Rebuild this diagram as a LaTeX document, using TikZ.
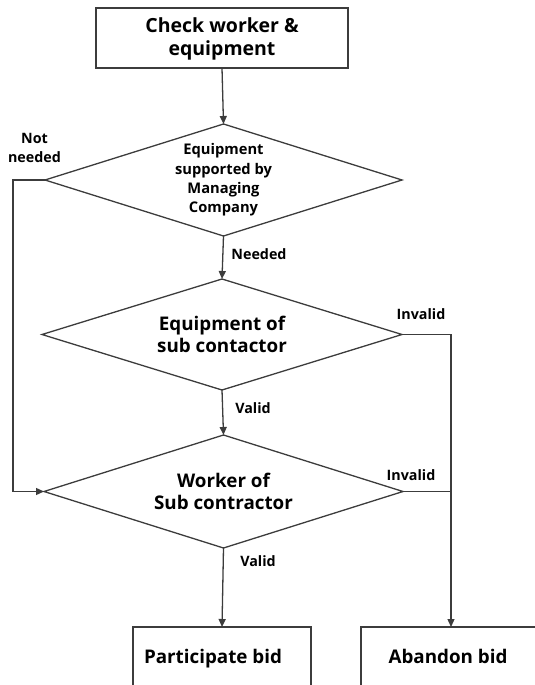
\documentclass[tikz,border=0pt]{standalone}
\usepackage{fontspec}
\setmainfont{Open Sans}
\usetikzlibrary{shapes.geometric,arrows.meta}

\definecolor{edge}{HTML}{3C3C3C}

\tikzset{
  line/.style={draw=edge, line width=1.3pt},
  flow/.style={line, -{Triangle[length=8pt,width=7pt]}},
  box/.style={line, rectangle, inner sep=0pt, outer sep=0pt},
  dia/.style={line, diamond, inner sep=0pt, outer sep=0pt,
              minimum width=357pt, minimum height=112pt},
  big/.style={align=center, font=\bfseries\fontsize{18.8}{22.5}\selectfont},
  mid/.style={align=center, font=\bfseries\fontsize{14.7}{19.3}\selectfont},
  tag/.style={align=center, font=\bfseries\fontsize{14.3}{19}\selectfont},
}

\begin{document}
\begin{tikzpicture}[x=1pt, y=-1pt]
  \useasboundingbox (0,0) rectangle (535,685);
  \clip (0,0) rectangle (535,685);

  % process boxes
  \node[box, minimum width=252pt, minimum height=60pt] (start) at (222,38) {};
  \node[big, font=\bfseries\fontsize{19.5}{23.5}\selectfont] (startt) at ([yshift=-1pt]start.center) {Check worker \&\\equipment};

  \node[box, minimum width=178pt, minimum height=60pt] (pb) at (222,657) {};
  \node[big, anchor=base] (pbt) at (213,663.5) {Participate bid};

  \node[box, minimum width=180pt, minimum height=60pt] (ab) at (451,657) {};
  \node[big, anchor=base] (abt) at (448,663.5) {Abandon bid};

  % decisions
  \node[dia] (d1) at (223.5,180) {};
  \node[mid] (d1t) at (d1) {Equipment\\supported by\\Managing\\Company};

  \node[dia, minimum width=360pt, minimum height=111pt] (d2) at (222,334.5) {};
  \node[big] (d2t) at (d2) {Equipment of\\sub contactor};

  \node[dia, minimum width=359pt, minimum height=113pt] (d3) at (223.5,491.5) {};
  \node[big] (d3t) at (d3) {Worker of\\Sub contractor};

  % connectors
  \coordinate (lft) at (13,180);
  \coordinate (rgt) at (451,334.5);

  \draw[flow] (start.south) -- (d1.north);
  \draw[flow] (d1.south) -- (d2.north);
  \draw[flow] (d2.south) -- (d3.north);
  \draw[flow] (d3.south) -- (pb.north);
  \draw[flow] (d1.west) -- (lft) |- (d3.west);
  \draw[flow] (d2.east) -- (rgt) -- (ab.north);
  \draw[line] (d3.east) -- (d3.east -| rgt);

  % branch labels
  \node[tag] (lnot) at (34.5,147.5) {Not\\needed};
  \node[tag] (lneed) at (259,254) {Needed};
  \node[tag] (linv1) at (421,314) {Invalid};
  \node[tag] (lval1) at (253,408) {Valid};
  \node[tag] (linv2) at (411,475) {Invalid};
  \node[tag] (lval2) at (258,561) {Valid};
\end{tikzpicture}
\end{document}
